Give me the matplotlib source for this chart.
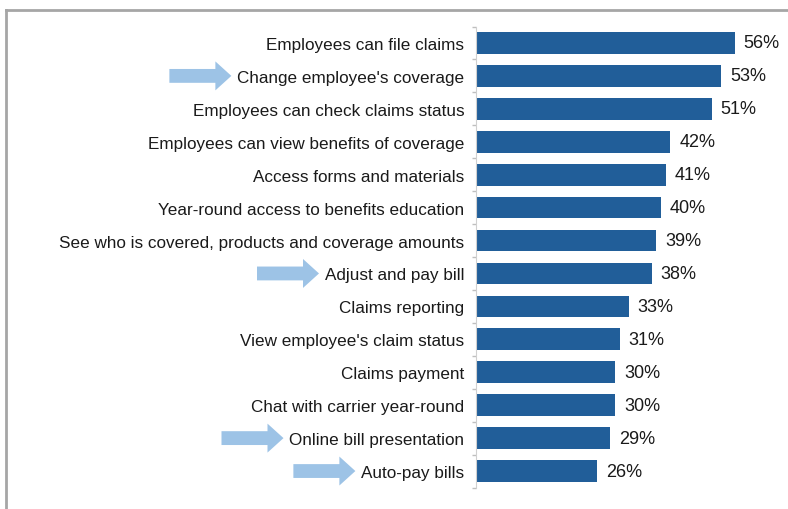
import matplotlib
matplotlib.use("Agg")
import matplotlib.pyplot as plt
from matplotlib.patches import FancyArrow
from matplotlib.transforms import blended_transform_factory
import numpy as np

plt.rcParams['font.family'] = ['Liberation Sans', 'DejaVu Sans']

# data (top to bottom as in the chart)
features = [
    "Employees can file claims",
    "Change employee's coverage",
    "Employees can check claims status",
    "Employees can view benefits of coverage",
    "Access forms and materials",
    "Year-round access to benefits education",
    "See who is covered, products and coverage amounts",
    "Adjust and pay bill",
    "Claims reporting",
    "View employee's claim status",
    "Claims payment",
    "Chat with carrier year-round",
    "Online bill presentation",
    "Auto-pay bills",
]
values = [56, 53, 51, 42, 41, 40, 39, 38, 33, 31, 30, 30, 29, 26]
highlighted = [False, True, False, False, False, False, False, True,
               False, False, False, False, True, True]

bar_color = "#215e99"
arrow_color = "#9dc3e6"
text_color = "#1a1a1a"

W, H = 788, 510
fig = plt.figure(figsize=(W / 100, H / 100), dpi=100)
ax = fig.add_axes([477 / W, 1 - 488.5 / H, 293 / W, 461 / H])

y = np.arange(len(features))
ax.barh(y, values, height=0.66, color=bar_color)
ax.set_ylim(len(features) - 0.5, -0.5)
ax.set_xlim(0, 293 / 4.6)

ax.set_yticks(y)
ax.set_yticklabels(features)
ax.set_yticks(np.arange(len(features) + 1) - 0.5, minor=True)
ax.tick_params(axis="y", which="major", length=0, pad=8,
               labelsize=12.3, labelcolor=text_color)
ax.tick_params(axis="y", which="minor", length=3, color="#bfbfbf", width=1)
ax.set_xticks([])
for s in ["top", "right", "bottom"]:
    ax.spines[s].set_visible(False)
ax.spines["left"].set_color("#d0d0d0")
ax.spines["left"].set_position(("outward", 1))

for yi, v in zip(y, values):
    ax.annotate(f"{v}%", (v, yi), xytext=(6.5, 0), textcoords="offset points",
                va="center", ha="left", fontsize=13, color=text_color)

# arrows pointing at highlighted labels
fig.canvas.draw()
renderer = fig.canvas.get_renderer()
trans = blended_transform_factory(fig.transFigure, ax.transData)
labels = ax.get_yticklabels()
for lbl, flag, yi in zip(labels, highlighted, y):
    if not flag:
        continue
    bb = lbl.get_window_extent(renderer)
    x_end = (bb.x0 - 6) / W
    length = 62 / W
    ax.add_patch(FancyArrow(x_end - length, yi, length, 0, width=0.42,
                            head_width=0.88, head_length=16 / W,
                            length_includes_head=True, transform=trans,
                            color=arrow_color, lw=0, clip_on=False))

# grey frame
frame_kw = dict(color="#a6a6a6", lw=2, transform=fig.transFigure)
fig.add_artist(plt.Line2D([6 / W, 1], [1 - 11 / H, 1 - 11 / H], **frame_kw))
fig.add_artist(plt.Line2D([6 / W, 6 / W], [0, 1 - 11 / H], **frame_kw))

fig.savefig("out.png", dpi=100)
